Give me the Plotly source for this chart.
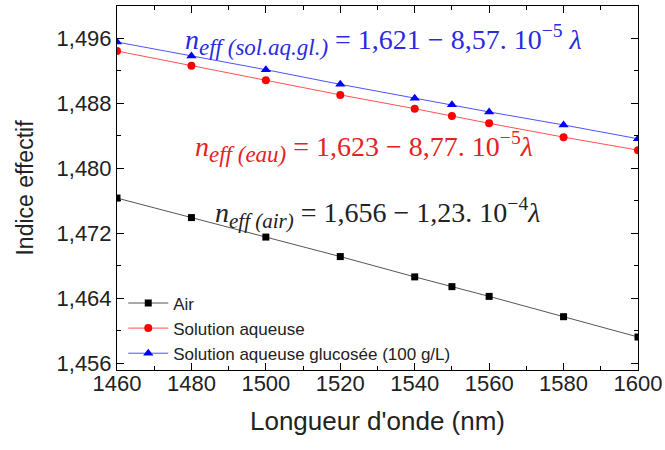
import plotly.graph_objects as go

wavelength = [1460, 1480, 1500, 1520, 1540, 1550, 1560, 1580, 1600]
n_air = [1.4763, 1.4739, 1.4715, 1.4691, 1.4666, 1.4654, 1.4642, 1.4617, 1.4592]
n_eau = [1.4944, 1.4926, 1.4908, 1.4890, 1.4873, 1.4864, 1.4855, 1.4838, 1.4822]
n_gluc = [1.4955, 1.4938, 1.4921, 1.4903, 1.4886, 1.4878, 1.4869, 1.4853, 1.4836]

names = ["Air", "Solution aqueuse", "Solution aqueuse glucosée (100 g/L)"]
y_ticks = [1.456, 1.464, 1.472, 1.480, 1.488, 1.496]
x_ticks = [1460, 1480, 1500, 1520, 1540, 1560, 1580, 1600]

W, H = 665, 450
L, R, T, B = 117, 27, 6, 80
pw, ph = W - L - R, H - T - B

fig = go.Figure()
fig.add_trace(go.Scatter(x=wavelength, y=n_air, name=names[0], mode="lines+markers",
                         line=dict(color="#555555", width=1),
                         marker=dict(symbol="square", size=7, color="black")))
fig.add_trace(go.Scatter(x=wavelength, y=n_eau, name=names[1], mode="lines+markers",
                         line=dict(color="#ff5050", width=1),
                         marker=dict(symbol="circle", size=8, color="#ff0000")))
fig.add_trace(go.Scatter(x=wavelength, y=n_gluc, name=names[2], mode="lines+markers",
                         line=dict(color="#5050ff", width=1),
                         marker=dict(symbol="triangle-up", size=9, color="#0000ff")))

eq_font = "Liberation Serif, DejaVu Serif, serif"
equations = [
    (383, 40, "<i>n</i><sub><span style='font-size:23px'><i>eff (sol.aq.gl.)</i></span></sub> = 1,621 − 8,57. 10<sup>−5</sup> <i>λ</i>", "#2a2ae0"),
    (364, 147, "<i>n</i><sub><span style='font-size:23px'><i>eff (eau)</i></span></sub> = 1,623 − 8,77. 10<sup>−5</sup><i>λ</i>", "#e52222"),
    (377, 213, "<i>n</i><sub><span style='font-size:21px'><i>eff (air)</i></span></sub> = 1,656 − 1,23. 10<sup>−4</sup><i>λ</i>", "#222222"),
]
for px, py, txt, col in equations:
    fig.add_annotation(x=(px - L) / pw, y=1 - (py - T) / ph, xref="paper", yref="paper",
                       xanchor="center", yanchor="middle", showarrow=False, text=txt,
                       font=dict(family=eq_font, size=28, color=col))

sans = "Arial, Liberation Sans, sans-serif"
axis_common = dict(showline=True, linecolor="black", linewidth=1, mirror="ticks",
                   ticks="inside", ticklen=7, tickwidth=1, tickcolor="black",
                   showgrid=False, zeroline=False, automargin=False,
                   tickfont=dict(family=sans, size=22, color="#222"))

fig.update_xaxes(range=[1460, 1600], tickvals=x_ticks, ticklabelstandoff=-6,
                 minor=dict(ticks="inside", ticklen=4, dtick=10, tick0=1460, tickcolor="black", showgrid=False),
                 title=dict(text="Longueur d'onde (nm)", standoff=16,
                            font=dict(family=sans, size=26, color="#222")),
                 **axis_common)
fig.update_yaxes(range=[1.45514, 1.49994], tickvals=y_ticks, tickformat=".3f",
                 minor=dict(ticks="inside", ticklen=4, dtick=0.004, tick0=1.456, tickcolor="black", showgrid=False),
                 title=dict(text="Indice effectif", standoff=16,
                            font=dict(family=sans, size=23, color="#222")),
                 **axis_common)

fig.update_layout(width=W, height=H, margin=dict(l=L, r=R, t=T, b=B),
                  plot_bgcolor="white", paper_bgcolor="white",
                  separators=", ",
                  legend=dict(x=0.012, y=-0.004, xanchor="left", yanchor="bottom",
                              bgcolor="rgba(0,0,0,0)", tracegroupgap=0, itemwidth=40,
                              font=dict(family=sans, size=17, color="#222")),
                  showlegend=True)

fig.write_html("out.html", config={"displayModeBar": False},
               post_script="document.body.style.margin='0';")
